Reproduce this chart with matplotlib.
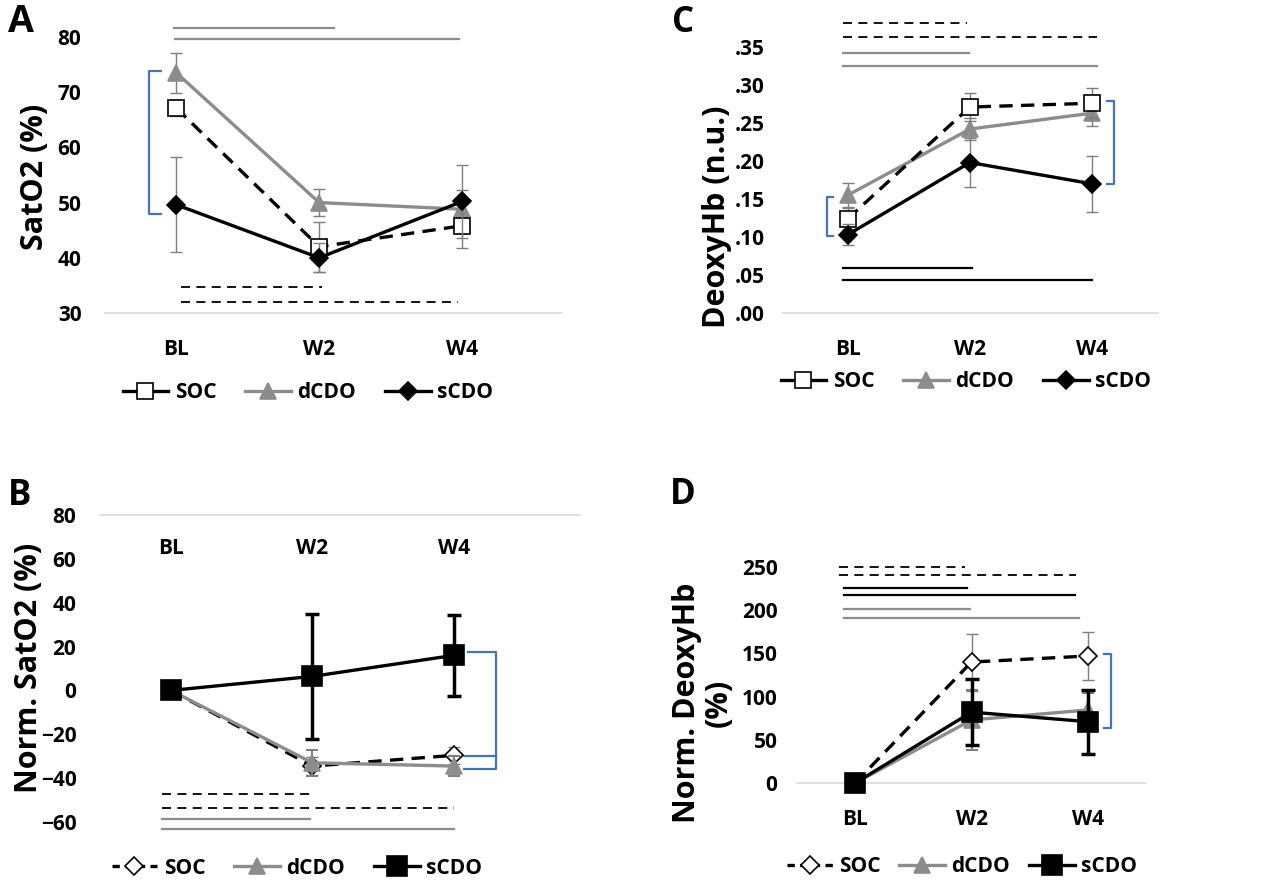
import numpy as np
import matplotlib
matplotlib.use("Agg")
import matplotlib.pyplot as plt
from matplotlib.lines import Line2D
from matplotlib.ticker import FuncFormatter

W, H = 1280, 885
plt.rcParams['font.family'] = ['Open Sans', 'DejaVu Sans']
plt.rcParams['font.weight'] = 'bold'

cats = ["BL", "W2", "W4"]
groups = ["SOC", "dCDO", "sCDO"]

# A: SatO2 (%)
a_soc = [67.1, 42.0, 45.8]
a_soc_err = [1.5, 4.5, 4.0]
a_dcdo = [73.5, 50.0, 48.8]
a_dcdo_err = [3.6, 2.5, 3.4]
a_scdo = [49.6, 40.0, 50.2]
a_scdo_err = [8.6, 2.6, 6.6]
a_sig_gray = [(-0.02, 1.1, 81.6), (-0.01, 1.98, 79.6)]
a_sig_dash = [(0.03, 1.02, 34.7), (0.03, 1.97, 32.0)]
a_bracket = [73.8, 47.9]

# B: Norm. SatO2 (%)
b_soc = [0, -34.5, -29.6]
b_soc_err = [0, 4.0, 4.0]
b_dcdo = [0, -33.0, -34.5]
b_dcdo_err = [0, 6.0, 4.5]
b_scdo = [0, 6.4, 16.0]
b_scdo_err = [0, 28.5, 18.5]
b_sig_dash = [(-0.06, 1.02, -47.4), (-0.06, 2.0, -53.4)]
b_sig_gray = [(-0.06, 0.98, -58.8), (-0.06, 2.0, -63.4)]
b_bracket = [17.3, -30.0, -36.0]

# C: DeoxyHb (n.u.)
c_soc = [0.124, 0.271, 0.276]
c_soc_err = [0.014, 0.019, 0.020]
c_dcdo = [0.155, 0.242, 0.263]
c_dcdo_err = [0.016, 0.015, 0.017]
c_scdo = [0.103, 0.198, 0.170]
c_scdo_err = [0.014, 0.032, 0.037]
c_sig_dash = [(-0.04, 0.98, 0.382), (-0.04, 2.04, 0.363)]
c_sig_gray = [(-0.04, 0.99, 0.342), (-0.04, 2.04, 0.325)]
c_sig_black = [(-0.04, 1.02, 0.059), (-0.04, 2.0, 0.043)]
c_bracket_bl = [0.152, 0.101]
c_bracket_w4 = [0.279, 0.170]

# D: Norm. DeoxyHb (%)
d_soc = [0, 140, 147]
d_soc_err = [0, 33, 28]
d_dcdo = [0, 73, 84.5]
d_dcdo_err = [0, 35, 20]
d_scdo = [0, 82, 71]
d_scdo_err = [0, 38, 37]
d_sig_dash = [(-0.14, 0.94, 250), (-0.14, 1.9, 240.6)]
d_sig_black = [(-0.1, 0.96, 226), (-0.1, 1.89, 217.6)]
d_sig_gray = [(-0.1, 0.99, 201), (-0.1, 1.92, 191)]
d_bracket = [149, 63.5]

GRAY = "#8c8c8c"
EGRAY = "#7f7f7f"
BLUE = "#4472c4"
AXLINE = "#d9d9d9"
TICK_FS = 15
LEG_FS = 15


def px_axes(fig, x0, y0, x1, y1):
    return fig.add_axes([x0 / W, 1 - y1 / H, (x1 - x0) / W, (y1 - y0) / H])


def base_axes(ax, xlim, ylim, yticks, ypad, xpad, top=False):
    ax.set_xlim(*xlim)
    ax.set_ylim(*ylim)
    for s in ax.spines.values():
        s.set_visible(False)
    sp = ax.spines['top'] if top else ax.spines['bottom']
    sp.set_visible(True)
    sp.set_color(AXLINE)
    sp.set_linewidth(1.2)
    ax.set_yticks(yticks)
    ax.set_xticks(range(len(cats)))
    ax.set_xticklabels(cats)
    ax.tick_params(axis='y', length=0, pad=ypad, labelsize=TICK_FS)
    if top:
        ax.tick_params(axis='x', length=0, top=True, bottom=False, labeltop=True,
                       labelbottom=False, pad=xpad, labelsize=TICK_FS)
    else:
        ax.tick_params(axis='x', length=0, pad=xpad, labelsize=TICK_FS)
    ax.patch.set_alpha(0)


def series(ax, y, err, color, ls, marker, ms, mfc, ecolor, elw, cap, z, label):
    x = np.arange(len(cats))
    ax.errorbar(x, y, yerr=err, fmt='none', ecolor=ecolor, elinewidth=elw,
                capsize=cap, capthick=elw, zorder=z)
    ax.plot(x, y, color=color, ls=ls, lw=2.4, marker=marker, ms=ms, mfc=mfc,
            mec="black" if color == "black" else color, mew=1.2, zorder=z + 0.5,
            label=label, clip_on=False)


def sig(ax, bars, color, dashed, lw=1.3):
    for x0, x1, y in bars:
        ax.plot([x0, x1], [y, y], color=color, lw=lw, clip_on=False,
                ls=(0, (5, 3.5)) if dashed else '-')


def legend(ax, cx, cy, soc_ls='-', spacing=1.4):
    h, l = ax.get_legend_handles_labels()
    handles = []
    for g in groups:
        src = h[l.index(g)]
        handles.append(Line2D([], [], color=src.get_color(),
                              ls=soc_ls if g == "SOC" else '-', lw=2.4,
                              marker=src.get_marker(), ms=src.get_markersize(),
                              mfc=src.get_markerfacecolor(), mec=src.get_markeredgecolor(),
                              mew=1.2))
    ax.legend(handles, groups, loc='center',
              bbox_to_anchor=(cx / W, 1 - cy / H), bbox_transform=ax.figure.transFigure,
              ncol=3, frameon=False, fontsize=LEG_FS, handlelength=2.2,
              handletextpad=0.3, columnspacing=spacing, borderpad=0)


fig = plt.figure(figsize=(W / 100, H / 100), dpi=100)
DASH = (0, (4, 2.5))
LEG_DASH = (0, (2.2, 1.6))

# ---- A
ax = px_axes(fig, 105, 37, 562, 313)
base_axes(ax, (-0.5, 2.7), (30, 80), range(30, 81, 10), 17, 19)
series(ax, a_dcdo, a_dcdo_err, GRAY, '-', '^', 11, GRAY, EGRAY, 1.0, 4, 2, "dCDO")
series(ax, a_soc, a_soc_err, "black", DASH, 's', 12, "white", EGRAY, 1.0, 4, 3, "SOC")
series(ax, a_scdo, a_scdo_err, "black", '-', 'D', 9, "black", EGRAY, 1.0, 4, 4, "sCDO")
sig(ax, a_sig_gray, GRAY, False, 1.6)
sig(ax, a_sig_dash, "black", True)
ax.plot([-0.11, -0.19, -0.19, -0.11], [a_bracket[0], a_bracket[0], a_bracket[1], a_bracket[1]],
        color=BLUE, lw=1.6, clip_on=False)
legend(ax, 308, 393)
fig.text(35 / W, 1 - 177 / H, "SatO2 (%)", rotation=90, ha='center', va='center', fontsize=22)
fig.text(8 / W, 1 - 22 / H, "A", ha='left', va='center', fontsize=27)

# ---- B
ax = px_axes(fig, 100, 515, 580, 822)
base_axes(ax, (-0.5, 2.89), (-60, 80), range(-60, 81, 20), 17, -32, top=True)
series(ax, b_soc, b_soc_err, "black", DASH, 'D', 9, "white", EGRAY, 1.0, 4, 2, "SOC")
series(ax, b_dcdo, b_dcdo_err, GRAY, '-', '^', 11, GRAY, EGRAY, 1.5, 4, 3, "dCDO")
series(ax, b_scdo, b_scdo_err, "black", '-', 's', 15, "black", "black", 2.5, 5, 4, "sCDO")
sig(ax, b_sig_dash, "black", True)
sig(ax, b_sig_gray, GRAY, False, 1.6)
ax.plot([2.1, 2.3, 2.3, 2.07], [b_bracket[0], b_bracket[0], b_bracket[2], b_bracket[2]],
        color=BLUE, lw=1.6, clip_on=False)
ax.plot([2.07, 2.3], [b_bracket[1], b_bracket[1]], color=BLUE, lw=1.6, clip_on=False)
legend(ax, 297, 868, soc_ls=LEG_DASH)
fig.text(29 / W, 1 - 668 / H, "Norm. SatO2 (%)", rotation=90, ha='center', va='center', fontsize=22)
fig.text(8 / W, 1 - 496 / H, "B", ha='left', va='center', fontsize=25)

# ---- C
ax = px_axes(fig, 783, 47, 1158, 313)
base_axes(ax, (-0.53, 2.54), (0, 0.35), np.arange(0, 0.351, 0.05), 13, 19)
ax.yaxis.set_major_formatter(FuncFormatter(lambda v, p: ("%.2f" % v)[1:]))
series(ax, c_dcdo, c_dcdo_err, GRAY, '-', '^', 11, GRAY, EGRAY, 1.0, 4, 2, "dCDO")
series(ax, c_soc, c_soc_err, "black", DASH, 's', 12, "white", EGRAY, 1.0, 4, 3, "SOC")
series(ax, c_scdo, c_scdo_err, "black", '-', 'D', 9, "black", EGRAY, 1.0, 4, 4, "sCDO")
sig(ax, c_sig_dash, "black", True)
sig(ax, c_sig_gray, GRAY, False, 1.6)
sig(ax, c_sig_black, "black", False, 1.6)
ax.plot([-0.12, -0.17, -0.17, -0.12], [c_bracket_bl[0], c_bracket_bl[0], c_bracket_bl[1], c_bracket_bl[1]],
        color=BLUE, lw=1.6, clip_on=False)
ax.plot([2.12, 2.18, 2.18, 2.12], [c_bracket_w4[0], c_bracket_w4[0], c_bracket_w4[1], c_bracket_w4[1]],
        color=BLUE, lw=1.6, clip_on=False)
legend(ax, 966, 382)
fig.text(717 / W, 1 - 217 / H, "DeoxyHb (n.u.)", rotation=90, ha='center', va='center', fontsize=22)
fig.text(672 / W, 1 - 23 / H, "C", ha='left', va='center', fontsize=25)

# ---- D
ax = px_axes(fig, 797, 567, 1146, 783)
base_axes(ax, (-0.5, 2.5), (0, 250), range(0, 251, 50), 14, 19)
series(ax, d_soc, d_soc_err, "black", DASH, 'D', 9, "white", EGRAY, 1.0, 4, 2, "SOC")
series(ax, d_dcdo, d_dcdo_err, GRAY, '-', '^', 11, GRAY, EGRAY, 1.5, 4, 3, "dCDO")
series(ax, d_scdo, d_scdo_err, "black", '-', 's', 15, "black", "black", 2.5, 5, 4, "sCDO")
sig(ax, d_sig_dash, "black", True)
sig(ax, d_sig_black, "black", False, 1.6)
sig(ax, d_sig_gray, GRAY, False, 1.6)
ax.plot([2.14, 2.2, 2.2, 2.14], [d_bracket[0], d_bracket[0], d_bracket[1], d_bracket[1]],
        color=BLUE, lw=1.6, clip_on=False)
legend(ax, 962, 867, soc_ls=LEG_DASH, spacing=0.9)
fig.text(703 / W, 1 - 703 / H, "Norm. DeoxyHb\n(%)", rotation=90, ha='center', va='center',
         fontsize=22, multialignment='center', linespacing=1.1)
fig.text(670 / W, 1 - 495 / H, "D", ha='left', va='center', fontsize=25)

fig.savefig("out.png", dpi=100)
